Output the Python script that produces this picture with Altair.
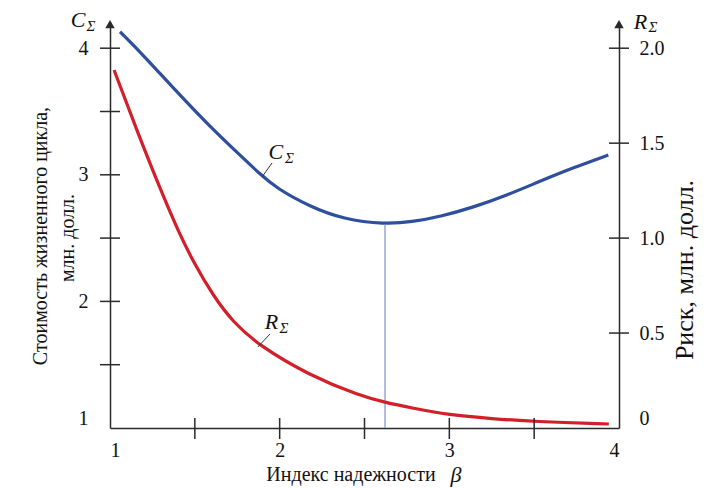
import altair as alt
import pandas as pd

# ---------------- data ----------------
beta_c = [1.059, 1.196, 1.393, 1.589, 1.786, 1.884, 1.982, 2.179, 2.375, 2.621,
          2.78, 2.945, 3.141, 3.338, 3.534, 3.731, 3.937]
cost_c = [4.130, 3.946, 3.656, 3.380, 3.130, 3.006, 2.893, 2.748, 2.649, 2.609,
          2.628, 2.669, 2.743, 2.838, 2.949, 3.056, 3.156]

beta_r = [1.024, 1.157, 1.314, 1.403, 1.491, 1.609, 1.727, 1.874, 2.179, 2.473,
          2.621, 2.768, 3.0, 3.25, 3.5, 3.94]
risk_r = [1.885, 1.569, 1.219, 1.036, 0.874, 0.695, 0.556, 0.437, 0.275, 0.170,
          0.135, 0.107, 0.068, 0.049, 0.034, 0.021]

beta_opt = [2.621]
cost_opt = [2.609]

x_tick_vals = [1.5, 2, 2.5, 3, 3.5]
x_label_vals = [1, 2, 3, 4]
c_tick_vals = [1.5, 2, 2.5, 3, 3.5, 4]
c_label_vals = [1, 2, 3, 4]
r_tick_vals = [0.5, 1.0, 1.5, 2.0]
r_label_vals = [0, 0.5, 1.0, 1.5, 2.0]

x_domain = [1, 4]
c_domain = [1, 4.207]
r_domain = [0, 2.138]

# curve labels (in data units)
c_lab_beta, c_lab_val = [1.978], [3.180]
c_sub_beta, c_sub_val = [2.058], [3.133]
c_lead_beta, c_lead_val, c_lead_beta2, c_lead_val2 = [1.896], [2.983], [1.955], [3.093]
r_lab_beta, r_lab_val = [1.952], [0.556]
r_sub_beta, r_sub_val = [2.026], [0.527]
r_lead_beta, r_lead_val, r_lead_beta2, r_lead_val2 = [1.872], [0.427], [1.943], [0.495]

left_title_1 = "Стоимость жизненного цикла,"
left_title_2 = "млн. долл."
right_title = "Риск, млн. долл."
x_title = "Индекс надежности"
x_title_sym = "β"
c_sym, r_sym, sub_sym = "C", "R", "Σ"

# ---------------- style ----------------
W, H = 509, 406
BLUE = "#2D4F9E"
RED = "#D21F2A"
THIN = "#7D90D2"
AX = "#2a2a2a"
FONT = "Liberation Serif"

X = alt.Scale(domain=x_domain, nice=False, zero=False)
YC = alt.Scale(domain=c_domain, nice=False, zero=False)
YR = alt.Scale(domain=r_domain, nice=False, zero=False)

x_axis = alt.Axis(values=x_label_vals, orient="bottom", ticks=False, tickSize=0, grid=False,
                  title=None, domainColor=AX, domainWidth=1.5, labelFont=FONT,
                  labelFontSize=20, labelColor="#111", labelPadding=12, format="d")
c_axis = alt.Axis(values=c_label_vals, orient="left", ticks=False, tickSize=0, grid=False,
                  title=None, domainColor=AX, domainWidth=1.5, labelFont=FONT,
                  labelFontSize=20, labelColor="#111", labelPadding=22, format="d",
                  labelFlush=1)
r_axis = alt.Axis(values=r_label_vals, orient="right", ticks=False, tickSize=0, grid=False,
                  title=None, domainColor=AX, domainWidth=1.5, labelFont=FONT,
                  labelFontSize=20, labelColor="#111", labelPadding=20,
                  labelExpr="datum.value == 0 ? '0' : format(datum.value, '.1f')",
                  labelFlush=1)


def xenc(field):
    return alt.X(field, scale=X, axis=x_axis)


cost_df = pd.DataFrame({"beta": beta_c, "cost": cost_c})
risk_df = pd.DataFrame({"beta": beta_r, "risk": risk_r})

blue = alt.Chart(cost_df).mark_line(color=BLUE, strokeWidth=3.2, interpolate="basis").encode(
    x=xenc("beta:Q"),
    y=alt.Y("cost:Q", scale=YC, axis=c_axis),
)
red = alt.Chart(risk_df).mark_line(color=RED, strokeWidth=3.2, interpolate="basis").encode(
    x=xenc("beta:Q"),
    y=alt.Y("risk:Q", scale=YR, axis=r_axis),
)

opt_df = pd.DataFrame({"beta": beta_opt, "c0": [c_domain[0]], "c1": cost_opt})
vline = alt.Chart(opt_df).mark_rule(color=THIN, strokeWidth=1.2).encode(
    x=xenc("beta:Q"),
    y=alt.Y("c0:Q", scale=YC, axis=None),
    y2="c1:Q",
)

xt = alt.Chart(pd.DataFrame({"beta": x_tick_vals})).mark_rule(color=AX, strokeWidth=1.5).encode(
    x=xenc("beta:Q"), y=alt.value(H - 10), y2=alt.value(H + 11))
ct = alt.Chart(pd.DataFrame({"cost": c_tick_vals})).mark_rule(color=AX, strokeWidth=1.5).encode(
    y=alt.Y("cost:Q", scale=YC, axis=None), x=alt.value(-10), x2=alt.value(10))
rt = alt.Chart(pd.DataFrame({"risk": r_tick_vals})).mark_rule(color=AX, strokeWidth=1.5).encode(
    y=alt.Y("risk:Q", scale=YR, axis=None), x=alt.value(W - 10), x2=alt.value(W + 10))

arrows = alt.Chart(pd.DataFrame({"beta": x_domain, "top": [4.19, 4.19]})).mark_point(
    shape="triangle-up", filled=True, size=90, color=AX, opacity=1).encode(
    x=xenc("beta:Q"), y=alt.Y("top:Q", scale=YC, axis=None))


def label(bx, vy, txt, scale, size):
    df = pd.DataFrame({"beta": bx, "v": vy, "t": [txt]})
    return alt.Chart(df).mark_text(font=FONT, fontStyle="italic", fontSize=size, color="#111",
                                   align="center", baseline="middle").encode(
        x=xenc("beta:Q"), y=alt.Y("v:Q", scale=scale, axis=None), text="t:N")


def leader(b1, v1, b2, v2, scale):
    df = pd.DataFrame({"b1": b1, "v1": v1, "b2": b2, "v2": v2})
    return alt.Chart(df).mark_rule(color="#333", strokeWidth=1).encode(
        x=xenc("b1:Q"), y=alt.Y("v1:Q", scale=scale, axis=None),
        x2="b2:Q", y2="v2:Q")


def ptext(txt, px, py, size, italic=False, angle=0):
    df = pd.DataFrame({"t": [txt]})
    kw = dict(font=FONT, fontSize=size, color="#111", align="center", baseline="middle")
    if italic:
        kw["fontStyle"] = "italic"
    if angle:
        kw["angle"] = angle
    return alt.Chart(df).mark_text(**kw).encode(x=alt.value(px), y=alt.value(py), text="t:N")


layers = [
    blue, vline, red, xt, ct, rt, arrows,
    label(c_lab_beta, c_lab_val, c_sym, YC, 22), label(c_sub_beta, c_sub_val, sub_sym, YC, 15),
    leader(c_lead_beta, c_lead_val, c_lead_beta2, c_lead_val2, YC),
    label(r_lab_beta, r_lab_val, r_sym, YR, 22), label(r_sub_beta, r_sub_val, sub_sym, YR, 15),
    leader(r_lead_beta, r_lead_val, r_lead_beta2, r_lead_val2, YR),
    ptext(c_sym, -32, -2, 22, italic=True), ptext(sub_sym, -19, 3.5, 15, italic=True),
    ptext(r_sym, 530.5, -0.5, 22, italic=True), ptext(sub_sym, 543, 4.5, 15, italic=True),
    ptext(left_title_1, -69, 214, 20, angle=270),
    ptext(left_title_2, -42, 216, 20, angle=270),
    ptext(right_title, 575, 248, 26, angle=270),
    ptext(x_title, 241, 453, 20),
    ptext(x_title_sym, 346, 453, 22, italic=True),
]

chart = alt.layer(*layers).resolve_scale(y="independent").properties(
    width=W, height=H,
    autosize=alt.AutoSizeParams(type="none"),
    padding={"left": 102, "top": 14, "right": 80, "bottom": 60},
    background="white",
).configure_view(stroke=None)

chart.save("out.html", embed_options={"renderer": "svg", "actions": False})
